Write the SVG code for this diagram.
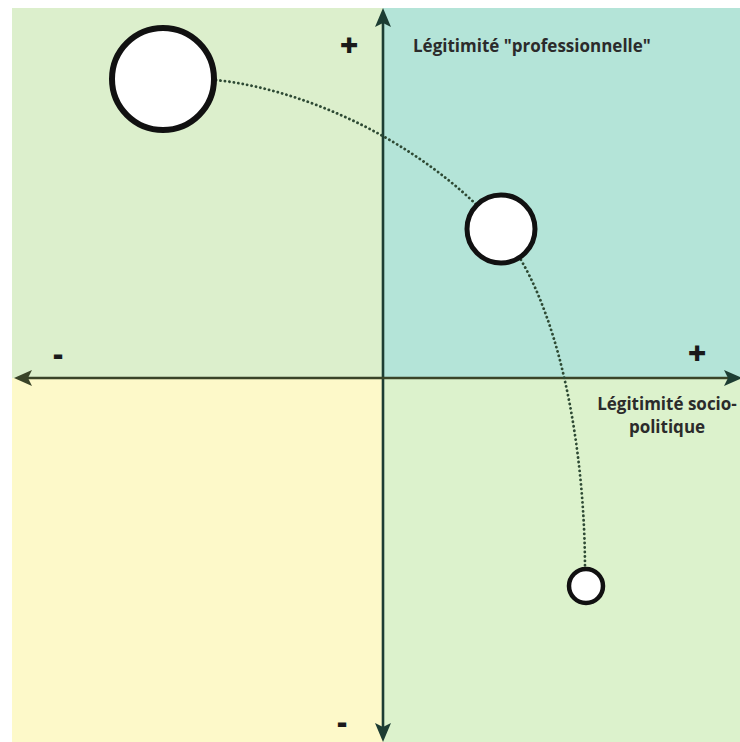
<svg xmlns="http://www.w3.org/2000/svg" width="740" height="742" viewBox="0 0 740 742">
<style>
.lbl{font-family:"Open Sans","Noto Sans","Liberation Sans",sans-serif;font-weight:bold;fill:#2b2b2b;font-size:17px;}
.sign{font-family:"Open Sans","Liberation Sans",sans-serif;font-weight:800;fill:#1a1a1a;font-size:32px;text-anchor:middle;}
.minus{font-size:30px;}
.node{fill:#ffffff;stroke:#111111;}
.dots{fill:none;stroke:#2e4a34;stroke-width:2.8;stroke-dasharray:0.1 4.4;stroke-linecap:round;}
</style>
<rect width="740" height="742" fill="#ffffff"/>
<g id="quadrants">
<rect x="12" y="8" width="371" height="370" fill="#dcefcc"/>
<rect x="383" y="8" width="357" height="370" fill="#b4e4d8"/>
<rect x="12" y="378" width="371" height="364" fill="#fdf9c9"/>
<rect x="383" y="378" width="357" height="364" fill="#dcf2cc"/>
</g>
<g id="axes">
<line x1="383" y1="20" x2="383" y2="730" stroke="#1d3d33" stroke-width="2.6"/>
<line x1="26" y1="378" x2="728" y2="378" stroke="#3a4428" stroke-width="2.6"/>
<path d="M383,8 L391,27 L383,23 L375,27 Z" fill="#1d3d33"/>
<path d="M383,742 L391,723 L383,727 L375,723 Z" fill="#1d3d33"/>
<path d="M14,378 L32,370 L28,378 L32,386 Z" fill="#3a4428"/>
<path d="M742,378 L724,370 L728,378 L724,386 Z" fill="#1d3d33"/>
</g>
<g id="connectors">
<path class="dots" d="M216,80 C325,92 440,158 500,230 C560,300 585,450 585,570"/>
</g>
<g id="node-large"><circle class="node" cx="163" cy="79" r="51" stroke-width="6"/></g>
<g id="node-medium"><circle class="node" cx="501" cy="229" r="34" stroke-width="5"/></g>
<g id="node-small"><circle class="node" cx="586" cy="586" r="17" stroke-width="4.5"/></g>
<g id="labels">
<text class="sign" x="349" y="57">+</text>
<text class="sign" x="697" y="365">+</text>
<text class="sign minus" x="58" y="365">-</text>
<text class="sign minus" x="342" y="733">-</text>
<text class="lbl" x="413" y="52">Légitimité "professionnelle"</text>
<text class="lbl" x="667" y="410" text-anchor="middle">Légitimité socio-</text>
<text class="lbl" x="667" y="433" text-anchor="middle">politique</text>
</g>
</svg>
